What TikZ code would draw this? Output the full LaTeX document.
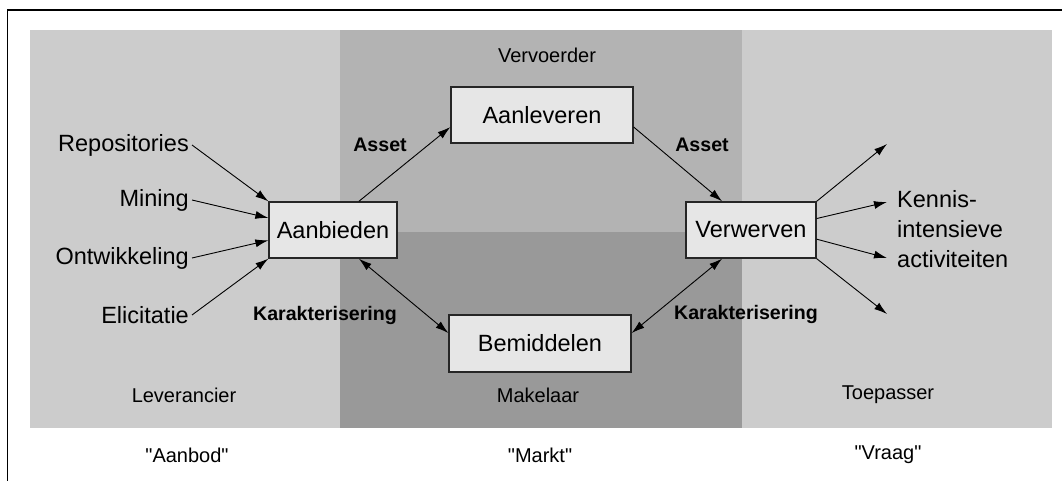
\documentclass[tikz,border=0pt]{standalone}
\usepackage{fontspec}
\setmainfont{Liberation Sans}[Ligatures=TeXOff]
\usetikzlibrary{arrows.meta,calc}
\definecolor{bandlight}{HTML}{CCCCCC}
\definecolor{bandmid}{HTML}{B3B3B3}
\definecolor{banddark}{HTML}{999999}
\definecolor{boxfill}{HTML}{E6E6E6}
\begin{document}
\begin{tikzpicture}[x=1pt,y=-1pt,
  procbox/.style={draw=black!85,line width=1.3pt,fill=boxfill,inner sep=0pt,
    minimum height=56pt,font=\fontsize{23.5}{28}\selectfont},
  plain/.style={font=\fontsize{23.5}{28}\selectfont,inner sep=3pt},
  rolelabel/.style={font=\fontsize{20}{24}\selectfont,inner sep=0pt},
  flowlabel/.style={font=\fontsize{19.6}{23}\selectfont\bfseries,inner sep=0pt},
  flow/.style={line width=0.9pt,-{Latex[length=13pt,width=8pt]}},
  flowboth/.style={line width=0.9pt,{Latex[length=13pt,width=8pt]}-{Latex[length=13pt,width=8pt]}}]
\useasboundingbox (0,0) rectangle (1062,481);
\fill[white] (0,0) rectangle (1062,481);
% frame
\draw[line width=1.5pt] (7.5,481) -- (7.5,10) -- (1062,10);
% bands
\fill[bandlight] (30,30) rectangle (340,428);
\fill[bandmid] (340,30) rectangle (742,232);
\fill[banddark] (340,232) rectangle (742,428);
\fill[bandlight] (742,30) rectangle (1052,428);
% role labels
\node[rolelabel] (vervoerder) at (547,55) {Vervoerder};
\node[rolelabel] (makelaar) at (538,395) {Makelaar};
\node[rolelabel] (leverancier) at (184,395) {Leverancier};
\node[rolelabel] (toepasser) at (888,395) {Toepasser};
\node[rolelabel] (aanbod) at (187,455) {"Aanbod"};
\node[rolelabel] (markt) at (540,455) {"Markt"};
\node[rolelabel] (vraag) at (888,455) {"Vraag"};
% process boxes
\node[procbox,minimum width=128pt] (aanb) at (333,230) {Aanbieden};
\node[procbox,minimum width=130pt] (verw) at (751,230) {Verwerven};
\node[procbox,minimum width=182pt] (alev) at (542,115) {Aanleveren};
\node[procbox,minimum width=182pt,minimum height=57pt] (bemi) at (540,343.5) {Bemiddelen};
% sources
\node[plain,anchor=east] (repo) at (192,145) {Repositories};
\node[plain,anchor=east] (mining) at (192,200) {Mining};
\node[plain,anchor=east] (ontw) at (192,258) {Ontwikkeling};
\node[plain,anchor=east] (elic) at (192,315) {Elicitatie};
\draw[flow] (repo.east) -- (aanb.north west);
\draw[flow] (mining.east) -- ($(aanb.north west)!0.29!(aanb.south west)$);
\draw[flow] (ontw.east) -- ($(aanb.north west)!0.68!(aanb.south west)$);
\draw[flow] (elic.east) -- (aanb.south west);
% outputs
\node[plain,anchor=west,align=left,font=\fontsize{23.5}{30}\selectfont] (kennis) at (894,229) {Kennis-\\intensieve\\activiteiten};
\coordinate (out1) at (887,144);
\coordinate (out2) at (887,202);
\coordinate (out3) at (887,258);
\coordinate (out4) at (887,314);
\draw[flow] (verw.north east) -- (out1);
\draw[flow] ($(verw.north east)!0.30!(verw.south east)$) -- (out2);
\draw[flow] ($(verw.north east)!0.66!(verw.south east)$) -- (out3);
\draw[flow] (verw.south east) -- (out4);
% exchange flows
\draw[flow] ($(aanb.north west)!0.70!(aanb.north east)$) -- ($(alev.north west)!0.71!(alev.south west)$);
\draw[flow] ($(alev.north east)!0.71!(alev.south east)$) -- ($(verw.north west)!0.28!(verw.north east)$);
\draw[flowboth] ($(aanb.south west)!0.70!(aanb.south east)$) -- ($(bemi.north west)!0.32!(bemi.south west)$);
\draw[flowboth] ($(verw.south west)!0.28!(verw.south east)$) -- ($(bemi.north east)!0.32!(bemi.south east)$);
% flow labels
\node[flowlabel] (assetl) at (380,145) {Asset};
\node[flowlabel] (assetr) at (702,145) {Asset};
\node[flowlabel] (karl) at (325,315) {Karakterisering};
\node[flowlabel] (karr) at (746,314) {Karakterisering};
\end{tikzpicture}
\end{document}
